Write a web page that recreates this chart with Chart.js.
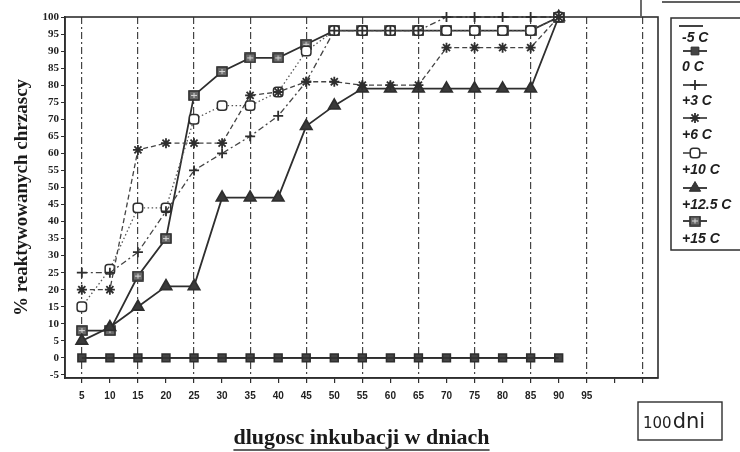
<!DOCTYPE html>
<html>
<head>
<meta charset="utf-8">
<script src="https://cdn.jsdelivr.net/npm/chart.js@4/dist/chart.umd.min.js"></script>
<style>
  html, body { margin: 0; padding: 0; background: #fff; }
  #wrap { width: 740px; height: 452px; position: relative; }
</style>
</head>
<body>
<div id="wrap"><canvas id="chart" width="740" height="452"></canvas></div>
<script>
// dni inkubacji
const days = [5, 10, 15, 20, 25, 30, 35, 40, 45, 50, 55, 60, 65, 70, 75, 80, 85, 90];
const xTicks = [5, 10, 15, 20, 25, 30, 35, 40, 45, 50, 55, 60, 65, 70, 75, 80, 85, 90, 95, 100, 105];
const yTicks = [-5, 0, 5, 10, 15, 20, 25, 30, 35, 40, 45, 50, 55, 60, 65, 70, 75, 80, 85, 90, 95, 100];

// % reaktywowanych chrzaszczy
const tMinus5 = [0, 0, 0, 0, 0, 0, 0, 0, 0, 0, 0, 0, 0, 0, 0, 0, 0, 0];
const t0 = [0, 0, 0, 0, 0, 0, 0, 0, 0, 0, 0, 0, 0, 0, 0, 0, 0, 0];
const t3 = [25, 25, 31, 43, 55, 60, 65, 71, 81, 96, 96, 96, 96, 100, 100, 100, 100, 100];
const t6 = [20, 20, 61, 63, 63, 63, 77, 78, 81, 81, 80, 80, 80, 91, 91, 91, 91, 100];
const t10 = [15, 26, 44, 44, 70, 74, 74, 78, 90, 96, 96, 96, 96, 96, 96, 96, 96, 100];
const t125 = [5, 9, 15, 21, 21, 47, 47, 47, 68, 74, 79, 79, 79, 79, 79, 79, 79, 100];
const t15 = [8, 8, 24, 35, 77, 84, 88, 88, 92, 96, 96, 96, 96, 96, 96, 96, 96, 100];

const seriesNames = ['-5 C', '0 C', '+3 C', '+6 C', '+10 C', '+12.5 C', '+15 C'];

const ink = '#2e2e2e';

// kwadrat z krzyzykiem dla +15 C
const boxCross = document.createElement('canvas');
boxCross.width = 12; boxCross.height = 11;
(function () {
    const c = boxCross.getContext('2d');
    c.fillStyle = '#6a6a6a';
    c.fillRect(0.5, 0.5, 11, 10);
    c.strokeStyle = ink;
    c.lineWidth = 1.5;
    c.strokeRect(1, 1, 10, 9);
    c.strokeStyle = '#d8d8d8';
    c.lineWidth = 1;
    c.beginPath();
    c.moveTo(3, 5.5); c.lineTo(9, 5.5);
    c.moveTo(6, 3); c.lineTo(6, 8);
    c.stroke();
})();

function pts(values) {
    return values.map((v, i) => ({ x: days[i], y: v }));
}

const datasets = [
    { label: seriesNames[0], data: pts(tMinus5), borderColor: ink, borderWidth: 1.5, pointRadius: 0, pointStyle: false },
    { label: seriesNames[1], data: pts(t0), borderColor: ink, borderWidth: 1.6, pointStyle: 'rect', pointRadius: 5.5, backgroundColor: '#444', pointBorderColor: ink },
    { label: seriesNames[2], data: pts(t3), borderColor: '#444', borderWidth: 1.3, borderDash: [6, 3, 2, 3], pointStyle: 'cross', pointRadius: 5, pointBorderWidth: 1.8, pointBorderColor: ink },
    { label: seriesNames[3], data: pts(t6), borderColor: '#444', borderWidth: 1.3, borderDash: [5, 3], pointStyle: 'star', pointRadius: 5, pointBorderWidth: 1.8, pointBorderColor: ink },
    { label: seriesNames[4], data: pts(t10), borderColor: '#555', borderWidth: 1.3, borderDash: [1.5, 2.5], pointStyle: 'rectRounded', pointRadius: 5.5, backgroundColor: '#fff', pointBorderColor: ink, pointBorderWidth: 1.5 },
    { label: seriesNames[5], data: pts(t125), borderColor: ink, borderWidth: 1.8, pointStyle: 'triangle', pointRadius: 6.5, backgroundColor: '#3a3a3a', pointBorderColor: ink },
    { label: seriesNames[6], data: pts(t15), borderColor: ink, borderWidth: 1.8, pointStyle: boxCross, pointRadius: 6 }
];
datasets.forEach(d => { d.clip = 10; d.tension = 0; d.fill = false; });

const titleFontX = { family: '"Liberation Serif", serif', size: 22, weight: 'bold' };

const frame = {
    id: 'frame',
    afterDraw(chart) {
        const { ctx, chartArea: a } = chart;
        ctx.save();
        ctx.strokeStyle = ink;
        ctx.lineWidth = 1.6;
        ctx.strokeRect(a.left, a.top, a.right - a.left, a.bottom - a.top);

        // kreska i ramka u gory po prawej
        ctx.lineWidth = 1.4;
        ctx.beginPath();
        ctx.moveTo(641, 0); ctx.lineTo(641, 16);
        ctx.moveTo(662, 2); ctx.lineTo(740, 2);
        ctx.stroke();

        // legenda
        ctx.lineWidth = 1.5;
        ctx.strokeRect(671, 18, 80, 232);
        const sampleY = [26, 51, 85, 118, 153, 188, 221];
        const textY = [38, 67, 101, 135, 170, 205, 239];
        ctx.textBaseline = 'middle';
        chart.data.datasets.forEach((d, i) => {
            const y = sampleY[i];
            ctx.strokeStyle = d.borderColor;
            ctx.lineWidth = 1.8;
            ctx.setLineDash([]);
            ctx.beginPath();
            ctx.moveTo(i === 0 ? 679 : 683, y);
            ctx.lineTo(i === 0 ? 703 : 707, y);
            ctx.stroke();
            if (d.pointStyle) {
                ctx.fillStyle = d.backgroundColor || '#444';
                ctx.strokeStyle = d.pointBorderColor || ink;
                ctx.lineWidth = d.pointBorderWidth || 1;
                Chart.helpers.drawPoint(ctx, { pointStyle: d.pointStyle, radius: d.pointRadius, rotation: 0, borderWidth: ctx.lineWidth }, 695, y);
            }
            ctx.fillStyle = '#1e1e1e';
            ctx.font = 'italic bold 14px "Liberation Sans", Arial, sans-serif';
            ctx.fillText(d.label, 682, textY[i]);
        });

        // 100dni
        ctx.strokeStyle = ink;
        ctx.lineWidth = 1.4;
        ctx.strokeRect(638, 402, 84, 38);
        ctx.fillStyle = '#222';
        ctx.textBaseline = 'alphabetic';
        ctx.font = '15px "DejaVu Sans", sans-serif';
        ctx.fillText('100', 643, 428);
        const w100 = ctx.measureText('100').width;
        ctx.font = '21px "DejaVu Sans", sans-serif';
        ctx.fillText('dni', 643 + w100 + 1, 428);

        // podkreslenie tytulu osi x
        const xs = chart.scales.x;
        ctx.font = 'bold 22px "Liberation Serif", serif';
        const w = ctx.measureText(xs.options.title.text).width;
        const cx = (a.left + a.right) / 2;
        ctx.lineWidth = 1.3;
        ctx.beginPath();
        ctx.moveTo(cx - w / 2, 450); ctx.lineTo(cx + w / 2, 450);
        ctx.stroke();
        ctx.restore();
    }
};

new Chart(document.getElementById('chart'), {
    type: 'line',
    data: { datasets },
    plugins: [frame],
    options: {
        responsive: false,
        animation: false,
        layout: { padding: { left: 0, right: 82, top: 17, bottom: 0 } },
        plugins: { legend: { display: false }, tooltip: { enabled: false } },
        scales: {
            x: {
                type: 'linear',
                min: 2,
                max: 107.7,
                afterBuildTicks: s => { s.ticks = xTicks.map(v => ({ value: v })); },
                afterFit: s => { s.height = 74; },
                ticks: {
                    autoSkip: false,
                    maxRotation: 0,
                    padding: 7,
                    color: '#222',
                    font: { family: '"Liberation Sans", Arial, sans-serif', size: 10, weight: 'bold' },
                    callback: v => (v <= 95 ? String(v) : '')
                },
                grid: {
                    color: c => (c.tick && c.tick.value % 10 === 5 ? '#444' : 'rgba(0,0,0,0)'),
                    lineWidth: 1.2,
                    tickColor: ink,
                    tickLength: 5,
                    tickBorderDash: []
                },
                border: { display: true, color: ink, width: 1.6, dash: [7, 3, 2, 3] },
                title: {
                    display: true,
                    text: 'dlugosc inkubacji w dniach',
                    color: '#1a1a1a',
                    font: titleFontX,
                    padding: { top: 0, bottom: 0 }
                }
            },
            y: {
                min: -5.9,
                max: 100,
                afterBuildTicks: s => { s.ticks = yTicks.map(v => ({ value: v })); },
                afterFit: s => { s.width = 65; },
                ticks: {
                    autoSkip: false,
                    padding: 2,
                    color: '#222',
                    font: { family: '"Liberation Serif", serif', size: 11, weight: 'bold' }
                },
                grid: { drawOnChartArea: false, tickColor: ink, tickLength: 4 },
                border: { display: true, color: ink, width: 1.6 },
                title: {
                    display: true,
                    text: '% reaktywowanych chrzascy',
                    color: '#1a1a1a',
                    font: { family: '"Liberation Serif", serif', size: 19, weight: 'bold' },
                    padding: { top: 11, bottom: 0 }
                }
            }
        }
    }
});
</script>
</body>
</html>
